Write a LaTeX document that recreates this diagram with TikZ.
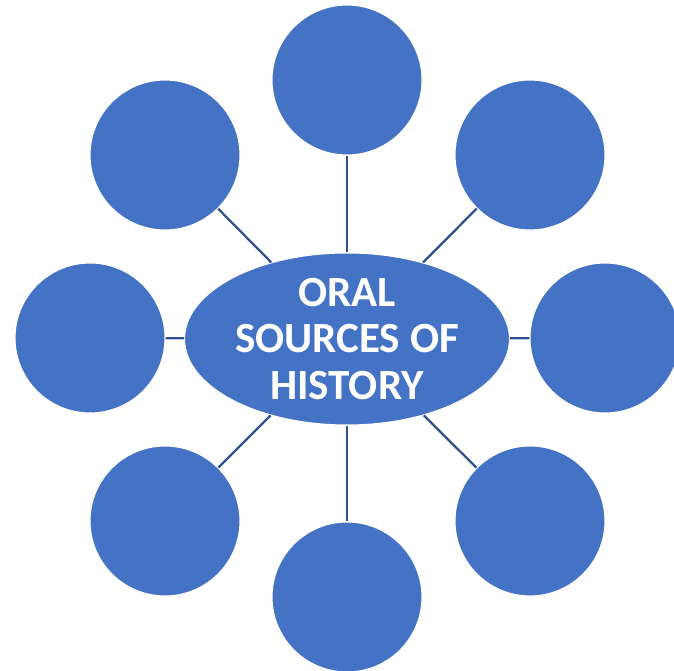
\documentclass[tikz,border=0pt]{standalone}
\usepackage{fontspec}
\setmainfont{Carlito}
\usepackage{tikz}
\usetikzlibrary{shapes.geometric}

\definecolor{bubble}{HTML}{4472C4}
\definecolor{spoke}{HTML}{2F528F}

\tikzset{
  bubble/.style={circle, fill=bubble, draw=white, line width=0.6pt, minimum size=3cm, inner sep=0pt},
  hub/.style={ellipse, fill=bubble, draw=white, line width=0.6pt, minimum width=6.5cm, minimum height=3.44cm, inner sep=0pt,
    text=white, font=\bfseries\fontsize{24.5}{26.5}\selectfont, align=center},
  spoke/.style={draw=spoke, line width=1.3pt}
}

\begin{document}
\begin{tikzpicture}[x=0.02cm, y=-0.02cm]
  \useasboundingbox (0,0) rectangle (674,671);
  \node (hub) [hub] at (347,339) {ORAL\\SOURCES OF\\HISTORY};
  \node (top) [bubble] at (347,80) {};
  \node (topright) [bubble] at (530,155) {};
  \node (right) [bubble] at (605,338) {};
  \node (botright) [bubble] at (530,521) {};
  \node (bottom) [bubble] at (347,597) {};
  \node (botleft) [bubble] at (165,521) {};
  \node (left) [bubble] at (90,338) {};
  \node (topleft) [bubble] at (165,155) {};
  \foreach \b in {top,topright,right,botright,bottom,botleft,left,topleft}
    \draw[spoke] (hub) -- (\b);
\end{tikzpicture}
\end{document}
